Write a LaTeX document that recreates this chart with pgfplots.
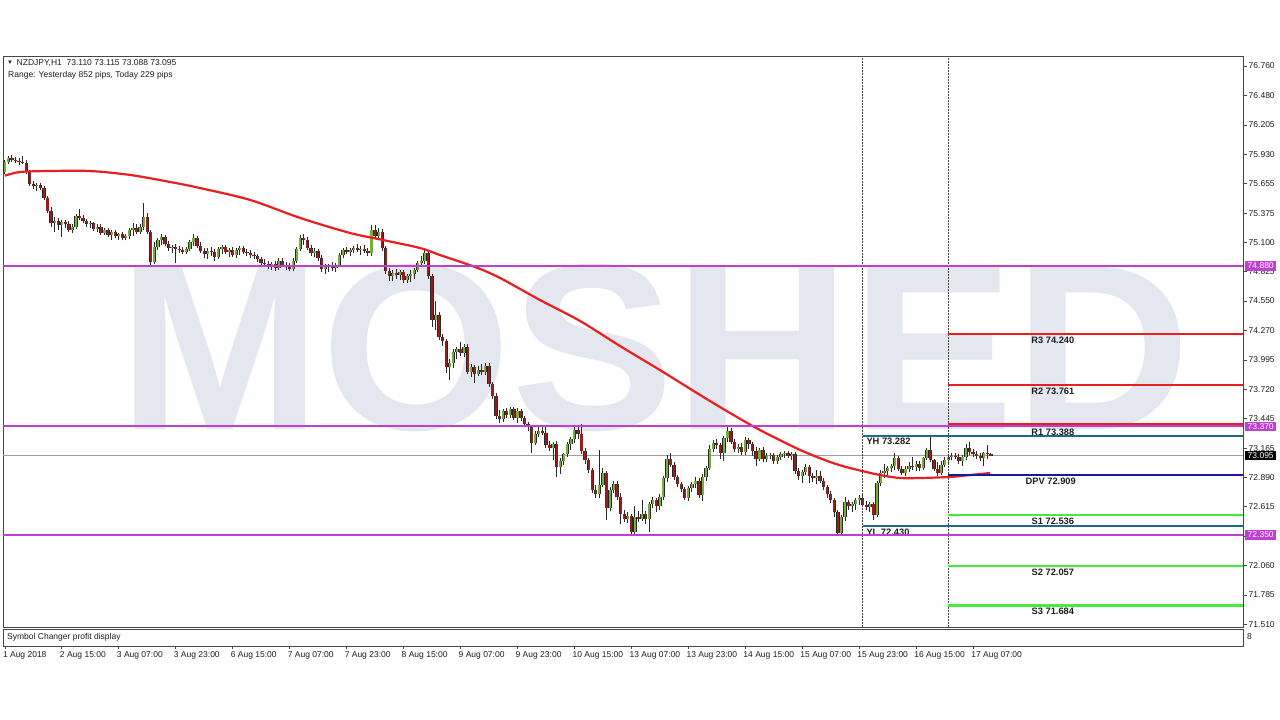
\documentclass[border=0pt]{standalone}
\usepackage{fontspec}
\setmainfont{Liberation Sans}
\usepackage{pgfplots}
\usepackage{pgfplotstable}
\pgfplotsset{compat=1.18}
\usepackage{graphicx}

\definecolor{mag}{RGB}{190,64,210}
\definecolor{bull}{RGB}{120,175,55}
\definecolor{bear}{RGB}{155,28,28}
\definecolor{wick}{RGB}{40,40,40}
\definecolor{rline}{RGB}{235,30,30}
\definecolor{sline}{RGB}{70,235,60}
\definecolor{dpv}{RGB}{25,25,160}
\definecolor{yhl}{RGB}{30,105,140}
\definecolor{wm}{RGB}{228,231,240}
\definecolor{frm}{RGB}{70,70,70}
\definecolor{txt}{RGB}{30,30,30}

\pgfplotstableread{
o h l c
75.76 75.88 75.74 75.86
75.86 75.91 75.84 75.89
75.89 75.92 75.86 75.88
75.88 75.90 75.85 75.87
75.87 75.89 75.83 75.86
75.86 75.91 75.84 75.85
75.85 75.88 75.74 75.76
75.76 75.78 75.63 75.65
75.65 75.68 75.60 75.63
75.63 75.66 75.58 75.64
75.64 75.66 75.59 75.61
75.61 75.63 75.50 75.52
75.52 75.54 75.38 75.40
75.40 75.43 75.25 75.28
75.28 75.34 75.20 75.30
75.30 75.33 75.22 75.26
75.26 75.31 75.15 75.29
75.29 75.31 75.24 75.27
75.27 75.30 75.20 75.22
75.22 75.27 75.19 75.25
75.25 75.37 75.23 75.35
75.35 75.41 75.31 75.33
75.33 75.36 75.28 75.30
75.30 75.32 75.25 75.27
75.27 75.30 75.24 75.28
75.28 75.29 75.21 75.23
75.23 75.27 75.20 75.25
75.25 75.27 75.17 75.19
75.19 75.24 75.17 75.22
75.22 75.24 75.15 75.17
75.17 75.22 75.12 75.20
75.20 75.22 75.14 75.16
75.16 75.19 75.12 75.18
75.18 75.20 75.12 75.14
75.14 75.18 75.12 75.16
75.16 75.24 75.13 75.22
75.22 75.28 75.16 75.24
75.24 75.27 75.18 75.20
75.20 75.27 75.18 75.25
75.25 75.47 75.22 75.34
75.34 75.38 75.18 75.20
75.20 75.22 74.88 74.92
74.92 75.10 74.90 75.06
75.06 75.14 75.03 75.12
75.12 75.18 75.08 75.15
75.15 75.17 75.07 75.09
75.09 75.11 75.02 75.05
75.05 75.08 75.00 75.06
75.06 75.09 74.91 75.04
75.04 75.07 75.00 75.03
75.03 75.06 74.99 75.01
75.01 75.06 74.99 75.04
75.04 75.12 75.02 75.10
75.10 75.18 75.07 75.14
75.14 75.16 75.05 75.07
75.07 75.10 75.00 75.02
75.02 75.05 74.95 74.99
74.99 75.05 74.94 75.02
75.02 75.06 74.97 75.01
75.01 75.04 74.93 74.96
74.96 75.06 74.94 75.04
75.04 75.08 74.99 75.06
75.06 75.08 74.99 75.01
75.01 75.05 74.96 75.03
75.03 75.06 74.96 74.98
74.98 75.05 74.95 75.03
75.03 75.07 74.98 75.05
75.05 75.07 74.99 75.01
75.01 75.04 74.97 75.00
75.00 75.03 74.95 74.98
74.98 75.01 74.94 74.97
74.97 74.99 74.92 74.94
74.94 74.96 74.88 74.91
74.91 74.94 74.87 74.90
74.90 74.93 74.85 74.88
74.88 74.92 74.84 74.90
74.90 74.93 74.83 74.86
74.86 74.95 74.84 74.93
74.93 74.95 74.87 74.89
74.89 74.92 74.84 74.87
74.87 74.91 74.83 74.85
74.85 74.95 74.83 74.93
74.93 75.06 74.91 75.04
75.04 75.17 75.02 75.14
75.14 75.18 75.08 75.12
75.12 75.15 75.03 75.05
75.05 75.08 74.97 75.00
75.00 75.05 74.96 75.02
75.02 75.04 74.93 74.95
74.95 74.98 74.82 74.85
74.85 74.90 74.80 74.87
74.87 74.90 74.82 74.88
74.88 74.92 74.83 74.86
74.86 74.91 74.82 74.89
74.89 75.00 74.87 74.98
74.98 75.05 74.95 75.03
75.03 75.06 74.99 75.01
75.01 75.05 74.97 75.03
75.03 75.07 75.00 75.05
75.05 75.09 75.01 75.03
75.03 75.07 74.98 75.04
75.04 75.08 75.00 75.02
75.02 75.05 74.97 75.00
75.00 75.26 74.97 75.22
75.22 75.26 75.13 75.16
75.16 75.24 75.12 75.20
75.20 75.23 75.02 75.05
75.05 75.07 74.80 74.83
74.83 74.86 74.74 74.78
74.78 74.84 74.74 74.81
74.81 74.85 74.76 74.79
74.79 74.84 74.75 74.82
74.82 74.84 74.72 74.75
74.75 74.80 74.72 74.78
74.78 74.84 74.73 74.80
74.80 74.86 74.76 74.84
74.84 74.93 74.82 74.91
74.91 74.97 74.88 74.93
74.93 75.03 74.90 75.00
75.00 75.01 74.76 74.78
74.78 74.80 74.30 74.37
74.37 74.55 74.28 74.42
74.42 74.45 74.18 74.21
74.21 74.24 74.13 74.17
74.17 74.19 73.87 73.93
73.93 74.00 73.81 73.97
73.97 74.10 73.92 74.07
74.07 74.12 74.00 74.10
74.10 74.16 74.03 74.06
74.06 74.14 74.02 74.12
74.12 74.14 73.86 73.88
73.88 73.96 73.83 73.93
73.93 73.95 73.78 73.86
73.86 73.94 73.84 73.90
73.90 73.96 73.85 73.88
73.88 73.97 73.85 73.94
73.94 73.97 73.74 73.77
73.77 73.79 73.63 73.66
73.66 73.68 73.44 73.47
73.47 73.52 73.40 73.44
73.44 73.53 73.41 73.51
73.51 73.54 73.45 73.48
73.48 73.55 73.45 73.53
73.53 73.55 73.43 73.45
73.45 73.54 73.40 73.51
73.51 73.53 73.42 73.45
73.45 73.47 73.36 73.39
73.39 73.41 73.33 73.36
73.36 73.38 73.12 73.21
73.21 73.33 73.19 73.30
73.30 73.36 73.27 73.33
73.33 73.37 73.29 73.31
73.31 73.38 73.17 73.19
73.19 73.23 73.14 73.17
73.17 73.22 73.05 73.20
73.20 73.23 72.89 72.99
72.99 73.07 72.92 73.04
73.04 73.12 73.01 73.11
73.11 73.22 73.08 73.20
73.20 73.27 73.15 73.25
73.25 73.38 73.21 73.34
73.34 73.37 73.25 73.30
73.30 73.39 73.11 73.14
73.14 73.17 73.02 73.05
73.05 73.07 72.93 72.96
72.96 72.98 72.74 72.77
72.77 72.82 72.70 72.73
72.73 73.15 72.70 72.82
72.82 72.98 72.80 72.93
72.93 72.95 72.49 72.60
72.60 72.80 72.57 72.77
72.77 72.86 72.74 72.83
72.83 72.86 72.68 72.71
72.71 72.74 72.45 72.55
72.55 72.58 72.47 72.50
72.50 72.56 72.46 72.53
72.53 72.55 72.36 72.38
72.38 72.62 72.36 72.52
72.52 72.57 72.47 72.50
72.50 72.68 72.48 72.55
72.55 72.57 72.45 72.50
72.50 72.66 72.38 72.64
72.64 72.71 72.60 72.68
72.68 72.70 72.56 72.62
72.62 72.73 72.58 72.71
72.71 72.90 72.68 72.88
72.88 73.10 72.85 73.06
73.06 73.12 72.99 73.01
73.01 73.03 72.87 72.89
72.89 72.91 72.80 72.83
72.83 72.85 72.75 72.78
72.78 72.80 72.68 72.70
72.70 72.81 72.67 72.79
72.79 72.85 72.75 72.83
72.83 72.89 72.79 72.86
72.86 72.88 72.70 72.72
72.72 72.92 72.67 72.89
72.89 73.00 72.86 72.98
72.98 73.19 72.96 73.16
73.16 73.24 73.13 73.21
73.21 73.25 73.16 73.19
73.19 73.21 73.06 73.12
73.12 73.28 73.04 73.26
73.26 73.37 73.22 73.33
73.33 73.35 73.20 73.22
73.22 73.25 73.13 73.16
73.16 73.20 73.12 73.18
73.18 73.21 73.10 73.13
73.13 73.27 73.10 73.24
73.24 73.26 73.16 73.20
73.20 73.22 73.09 73.14
73.14 73.18 73.00 73.06
73.06 73.17 73.04 73.15
73.15 73.18 73.03 73.06
73.06 73.12 73.03 73.09
73.09 73.12 73.06 73.10
73.10 73.12 73.02 73.04
73.04 73.10 73.02 73.08
73.08 73.13 73.05 73.11
73.11 73.14 73.07 73.12
73.12 73.14 73.07 73.09
73.09 73.13 73.05 73.11
73.11 73.13 72.92 72.95
72.95 72.98 72.87 72.90
72.90 72.96 72.84 72.94
72.94 73.02 72.91 72.99
72.99 73.01 72.84 72.90
72.90 72.93 72.85 72.88
72.88 72.96 72.83 72.90
72.90 72.95 72.84 72.86
72.86 72.88 72.77 72.80
72.80 72.82 72.70 72.73
72.73 72.76 72.65 72.68
72.68 72.70 72.52 72.56
72.56 72.58 72.34 72.37
72.37 72.54 72.35 72.52
72.52 72.71 72.48 72.66
72.66 72.68 72.58 72.62
72.62 72.66 72.56 72.64
72.64 72.70 72.58 72.68
72.68 72.72 72.63 72.70
72.70 72.72 72.61 72.63
72.63 72.67 72.58 72.61
72.61 72.66 72.56 72.64
72.64 72.66 72.49 72.54
72.54 72.86 72.52 72.84
72.84 72.96 72.81 72.93
72.93 73.02 72.88 72.95
72.95 73.00 72.90 72.98
72.98 73.02 72.94 73.00
73.00 73.12 72.96 73.07
73.07 73.09 72.95 72.97
72.97 73.00 72.91 72.93
72.93 73.00 72.90 72.97
72.97 73.03 72.94 73.00
73.00 73.08 72.96 72.99
72.99 73.04 72.95 73.02
73.02 73.04 72.95 72.98
72.98 73.08 72.96 73.07
73.07 73.17 73.05 73.15
73.15 73.28 73.03 73.05
73.05 73.06 72.95 72.97
72.97 73.03 72.90 72.93
72.93 73.04 72.91 73.01
73.01 73.08 72.99 73.05
73.05 73.10 73.02 73.08
73.08 73.12 73.05 73.09
73.09 73.12 73.06 73.08
73.08 73.11 73.02 73.04
73.04 73.10 73.00 73.08
73.08 73.20 73.05 73.17
73.17 73.22 73.10 73.13
73.13 73.16 73.08 73.11
73.11 73.14 73.06 73.09
73.09 73.12 73.04 73.07
73.07 73.13 73.00 73.12
73.12 73.19 73.06 73.11
73.110 73.115 73.088 73.095
}\candles

\begin{document}
\begin{tikzpicture}[x=1pt,y=1pt]
\fill[white] (0,0) rectangle (1280,720);
% watermark
\node[anchor=south west, inner sep=0pt, text=wm] at (118,288) {\resizebox{1072pt}{165pt}{\bfseries MOSHED}};

\begin{axis}[
  at={(3pt,93pt)}, anchor=south west, scale only axis,
  width=1240pt, height=571pt,
  xmin=-0.506, xmax=347.81, ymin=71.4825, ymax=76.854,
  axis line style={frm, line width=0.8pt},
  xtick=\empty,
  ytick={76.760,76.480,76.205,75.930,75.655,75.375,75.100,74.825,74.550,74.270,73.995,73.720,73.445,73.165,72.890,72.615,72.335,72.060,71.785,71.510},
  yticklabels={76.760,76.480,76.205,75.930,75.655,75.375,75.100,74.825,74.550,74.270,73.995,73.720,73.445,73.165,72.890,72.615,72.335,72.060,71.785,71.510},
  ytick pos=right, yticklabel pos=right, tick align=outside,
  major tick length=4pt,
  tick style={frm, line width=0.6pt},
  yticklabel style={font=\fontsize{8.5}{10}\selectfont, text=txt, inner sep=1.5pt},
  clip=false,
  candle/.style={draw=none, mark=none, error bars/y dir=plus, error bars/y explicit, error bars/error mark=none},
]
% current price line
\addplot[gray!75, line width=0.8pt] coordinates {(-0.506,73.095) (347.81,73.095)};
% wicks
\addplot[candle, error bars/error bar style={draw=wick, solid, line width=0.9pt}]
  table[x expr=\coordindex, y=l, y error expr=\thisrow{h}-\thisrow{l}] {\candles};
% bull bodies
\addplot[candle, restrict expr to domain={\thisrow{c}-\thisrow{o}}{0:10},
  error bars/error bar style={draw=wick, solid, line width=3.3pt}]
  table[x expr=\coordindex, y=o, y error expr=\thisrow{c}-\thisrow{o}] {\candles};
\addplot[candle, restrict expr to domain={\thisrow{c}-\thisrow{o}}{0:10},
  error bars/error bar style={draw=bull, solid, line width=2.1pt}]
  table[x expr=\coordindex, y=o, y error expr=\thisrow{c}-\thisrow{o}] {\candles};
% bear bodies
\addplot[candle, restrict expr to domain={\thisrow{o}-\thisrow{c}}{0.00001:10},
  error bars/error bar style={draw=wick, solid, line width=3.3pt}]
  table[x expr=\coordindex, y=c, y error expr=\thisrow{o}-\thisrow{c}] {\candles};
\addplot[candle, restrict expr to domain={\thisrow{o}-\thisrow{c}}{0.00001:10},
  error bars/error bar style={draw=bear, solid, line width=2.1pt}]
  table[x expr=\coordindex, y=c, y error expr=\thisrow{o}-\thisrow{c}] {\candles};
% moving average
\addplot[rline, line width=2.2pt, smooth] coordinates {
(0,75.728) (4.27,75.763) (12.7,75.772) (23.9,75.772) (35.2,75.735) (46.4,75.669)
(54.8,75.612) (68.9,75.500) (83.0,75.330) (97.0,75.189) (106.2,75.123) (116.6,75.048)
(122.2,74.982) (132.1,74.869) (139.1,74.766) (150.3,74.559) (161.6,74.361) (172.8,74.126)
(184.0,73.900) (195.3,73.665) (203.7,73.496) (212.1,73.336) (223.4,73.148) (231.8,73.035)
(237.4,72.978) (245.8,72.912) (251.5,72.884) (257.1,72.884) (265.5,72.894) (271.1,72.912)
(276.8,72.931)};
% day separators
\draw[frm, line width=0.6pt, dash pattern=on 1.5pt off 1.5pt] (axis cs:241,71.4825) -- (axis cs:241,76.854);
\draw[frm, line width=0.6pt, dash pattern=on 1.5pt off 1.5pt] (axis cs:265,71.4825) -- (axis cs:265,76.854);
% yesterday high / low
\addplot[yhl, line width=1.8pt] coordinates {(241,73.282) (347.81,73.282)};
\addplot[yhl, line width=1.6pt] coordinates {(241,72.430) (347.81,72.430)};
% pivots
\addplot[rline, line width=1.8pt] coordinates {(265,74.240) (347.81,74.240)};
\addplot[rline, line width=1.8pt] coordinates {(265,73.761) (347.81,73.761)};
\addplot[rline, line width=3.0pt] coordinates {(265,73.388) (347.81,73.388)};
\addplot[dpv, line width=2.0pt] coordinates {(265,72.909) (347.81,72.909)};
\addplot[sline, line width=2.4pt] coordinates {(265,72.536) (347.81,72.536)};
\addplot[sline, line width=2.4pt] coordinates {(265,72.057) (347.81,72.057)};
\addplot[sline, line width=2.4pt] coordinates {(265,71.684) (347.81,71.684)};
% labels
\begin{scope}[every node/.style={font=\fontsize{9.3}{11}\selectfont\bfseries, text=txt, inner sep=0pt}]
\node at (axis cs:294.4,74.175) {R3 74.240};
\node at (axis cs:294.4,73.700) {R2 73.761};
\node at (axis cs:294.4,73.310) {R1 73.388};
\node at (axis cs:293.8,72.850) {DPV 72.909};
\node at (axis cs:294.4,72.475) {S1 72.536};
\node at (axis cs:294.4,71.995) {S2 72.057};
\node at (axis cs:294.4,71.628) {S3 71.684};
\node[anchor=west] at (axis cs:242.0,73.225) {YH 73.282};
\node[anchor=west] at (axis cs:242.0,72.372) {YL 72.430};
\end{scope}
% magenta levels
\addplot[mag, line width=2.0pt] coordinates {(-0.506,74.880) (347.81,74.880)};
\addplot[mag, line width=2.0pt] coordinates {(-0.506,73.370) (347.81,73.370)};
\addplot[mag, line width=2.0pt] coordinates {(-0.506,72.350) (347.81,72.350)};
% price boxes
\begin{scope}[every node/.style={anchor=west, xshift=2pt, inner xsep=2.5pt, inner ysep=1.8pt, font=\fontsize{8.5}{10}\selectfont, text=white}]
\node[fill=mag] at (axis cs:347.81,74.880) {74.880};
\node[fill=mag] at (axis cs:347.81,73.370) {73.370};
\node[fill=mag] at (axis cs:347.81,72.350) {72.350};
\node[fill=black] at (axis cs:347.81,73.095) {73.095};
\end{scope}
\end{axis}

% indicator sub-window with the time axis
\begin{axis}[
  at={(3pt,74pt)}, anchor=south west, scale only axis,
  width=1240pt, height=17pt,
  xmin=-0.506, xmax=347.81, ymin=0, ymax=1,
  axis line style={frm, line width=0.8pt},
  ytick=\empty,
  xtick={0,16,32,48,64,80,96,112,128,144,160,176,192,208,224,240,256,272},
  xticklabels={1 Aug 2018,2 Aug 15:00,3 Aug 07:00,3 Aug 23:00,6 Aug 15:00,7 Aug 07:00,7 Aug 23:00,8 Aug 15:00,9 Aug 07:00,9 Aug 23:00,10 Aug 15:00,13 Aug 07:00,13 Aug 23:00,14 Aug 15:00,15 Aug 07:00,15 Aug 23:00,16 Aug 15:00,17 Aug 07:00},
  xtick pos=bottom, tick align=outside, major tick length=3pt,
  tick style={frm, line width=0.6pt},
  xticklabel style={anchor=north west, xshift=-4pt, inner sep=2pt, font=\fontsize{8.5}{10}\selectfont, text=txt},
]
\node[anchor=west, inner sep=0pt, font=\fontsize{8.5}{10}\selectfont, text=txt] at (rel axis cs:0,0.5) [xshift=4pt] {Symbol Changer profit display};
\end{axis}

% header texts
\node[anchor=west, inner sep=0pt, font=\fontsize{6}{7}\selectfont, text=txt] at (7,657) {▼};
\node[anchor=west, inner sep=0pt, font=\fontsize{8.5}{10}\selectfont, text=txt] at (16.5,657) {NZDJPY,H1\ \ 73.110 73.115 73.088 73.095};
\node[anchor=west, inner sep=0pt, font=\fontsize{8.5}{10}\selectfont, text=txt] at (8,645) {Range: Yesterday 852 pips, Today 229 pips};
\node[anchor=west, inner sep=0pt, font=\fontsize{8.5}{10}\selectfont, text=txt] at (1247,83) {8};
\end{tikzpicture}
\end{document}
